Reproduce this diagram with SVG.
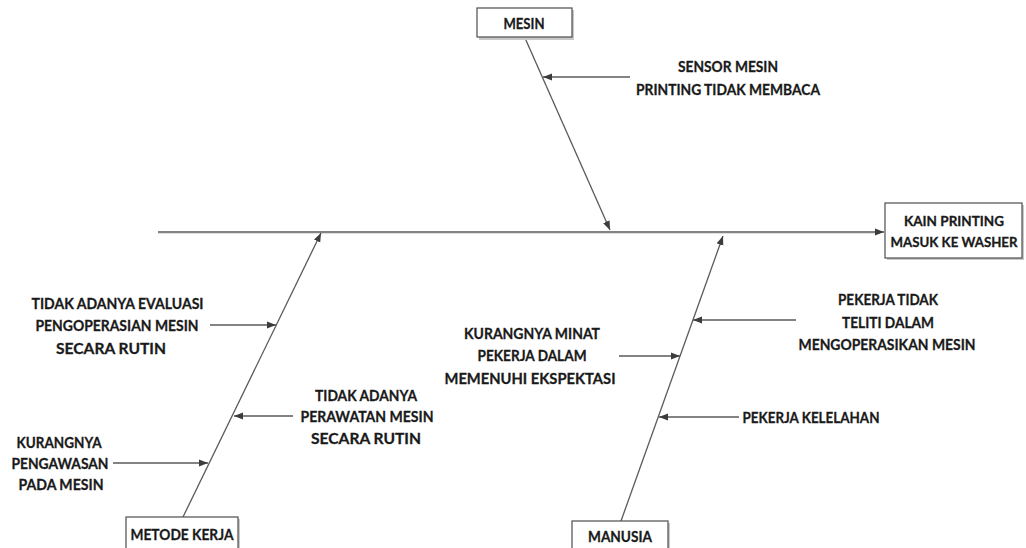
<svg xmlns="http://www.w3.org/2000/svg" width="1026" height="548" viewBox="0 0 1026 548">
<style>
text{font-family:Lato,"Liberation Sans",sans-serif;font-weight:bold;font-size:15.5px;fill:#1a1a1a;stroke:#1a1a1a;stroke-width:0.3;text-anchor:middle;dominant-baseline:central}
.sm{font-size:14px}
.ln{stroke:#5a5a5a;stroke-width:1.3;fill:none}
.arr{marker-end:url(#ah)}
.box{fill:#fff;stroke:#4d4d4d;stroke-width:1.2}
.sh{fill:#c8c8c8}
</style>
<defs>
<marker id="ah" markerUnits="userSpaceOnUse" markerWidth="10" markerHeight="8" refX="9" refY="4" orient="auto">
<path d="M0,0.5 L9,4 L0,7.5 z" fill="#3c3c3c"/>
</marker>
</defs>
<rect width="1026" height="548" fill="#fff"/>
<g id="connectors">
<line x1="158" y1="233.6" x2="880" y2="233.6" style="stroke:#dcdcdc;stroke-width:1"/>
<line class="ln arr" x1="158" y1="232" x2="884" y2="232"/>
<line class="ln arr" x1="525" y1="38" x2="610" y2="230"/>
<line class="ln arr" x1="183" y1="517" x2="321" y2="233"/>
<line class="ln arr" x1="621" y1="521" x2="723" y2="236"/>
<line class="ln arr" x1="630" y1="77" x2="543" y2="77"/>
<line class="ln arr" x1="210" y1="325" x2="276" y2="325"/>
<line class="ln arr" x1="293" y1="416" x2="234" y2="416"/>
<line class="ln arr" x1="113" y1="463" x2="208" y2="463"/>
<line class="ln arr" x1="796" y1="320" x2="693" y2="320"/>
<line class="ln arr" x1="619" y1="356" x2="680" y2="356"/>
<line class="ln arr" x1="739" y1="417" x2="659" y2="417"/>
</g>
<g id="mesin">
<rect class="sh" x="479" y="10" width="95" height="30"/>
<rect class="box" x="477" y="8" width="95" height="29"/>
<text x="524" y="23" textLength="41" lengthAdjust="spacingAndGlyphs">MESIN</text>
</g>
<g id="kain">
<rect class="sh" x="887" y="205" width="137" height="55"/>
<rect class="box" x="885" y="203" width="137" height="55"/>
<text class="sm" x="954" y="220" textLength="100" lengthAdjust="spacingAndGlyphs">KAIN PRINTING</text>
<text class="sm" x="954" y="241" textLength="127" lengthAdjust="spacingAndGlyphs">MASUK KE WASHER</text>
</g>
<g id="metode">
<rect class="sh" x="128" y="519" width="112" height="32"/>
<rect class="box" x="126" y="517" width="112" height="32"/>
<text x="182" y="534" textLength="103" lengthAdjust="spacingAndGlyphs">METODE KERJA</text>
</g>
<g id="manusia">
<rect class="sh" x="574" y="523" width="96" height="30"/>
<rect class="box" x="572" y="521" width="96" height="30"/>
<text x="620" y="536" textLength="64" lengthAdjust="spacingAndGlyphs">MANUSIA</text>
</g>
<g id="sensor">
<text x="728" y="66" textLength="100" lengthAdjust="spacingAndGlyphs">SENSOR MESIN</text>
<text x="728" y="89" textLength="184" lengthAdjust="spacingAndGlyphs">PRINTING TIDAK MEMBACA</text>
</g>
<g id="evaluasi">
<text x="117.5" y="303" textLength="172" lengthAdjust="spacingAndGlyphs">TIDAK ADANYA EVALUASI</text>
<text x="117" y="325" textLength="163" lengthAdjust="spacingAndGlyphs">PENGOPERASIAN MESIN</text>
<text x="111" y="348" textLength="110" lengthAdjust="spacingAndGlyphs">SECARA RUTIN</text>
</g>
<g id="perawatan">
<text x="366" y="395" textLength="102" lengthAdjust="spacingAndGlyphs">TIDAK ADANYA</text>
<text x="367" y="416" textLength="133" lengthAdjust="spacingAndGlyphs">PERAWATAN MESIN</text>
<text x="366" y="438" textLength="110" lengthAdjust="spacingAndGlyphs">SECARA RUTIN</text>
</g>
<g id="pengawasan">
<text x="59" y="442" textLength="85" lengthAdjust="spacingAndGlyphs">KURANGNYA</text>
<text x="60" y="463" textLength="97" lengthAdjust="spacingAndGlyphs">PENGAWASAN</text>
<text x="61" y="484" textLength="85" lengthAdjust="spacingAndGlyphs">PADA MESIN</text>
</g>
<g id="teliti">
<text x="888" y="299" textLength="100" lengthAdjust="spacingAndGlyphs">PEKERJA TIDAK</text>
<text x="888" y="322" textLength="92" lengthAdjust="spacingAndGlyphs">TELITI DALAM</text>
<text x="887" y="344" textLength="177" lengthAdjust="spacingAndGlyphs">MENGOPERASIKAN MESIN</text>
</g>
<g id="minat">
<text x="532" y="333" textLength="136" lengthAdjust="spacingAndGlyphs">KURANGNYA MINAT</text>
<text x="532" y="355" textLength="109" lengthAdjust="spacingAndGlyphs">PEKERJA DALAM</text>
<text x="530" y="378" textLength="171" lengthAdjust="spacingAndGlyphs">MEMENUHI EKSPEKTASI</text>
</g>
<g id="kelelahan">
<text x="811" y="417" textLength="137" lengthAdjust="spacingAndGlyphs">PEKERJA KELELAHAN</text>
</g>
</svg>
